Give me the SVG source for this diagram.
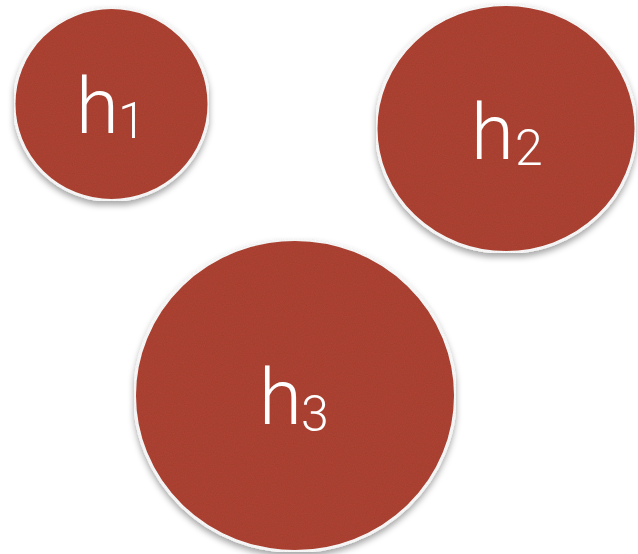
<svg xmlns="http://www.w3.org/2000/svg" width="638" height="554" viewBox="0 0 638 554">
  <defs>
    <filter id="shadow" x="-20%" y="-20%" width="140%" height="140%">
      <feDropShadow dx="0" dy="4" stdDeviation="3" flood-color="#000" flood-opacity="0.35"/>
    </filter>
    <filter id="tex" x="0" y="0" width="100%" height="100%">
      <feTurbulence type="fractalNoise" baseFrequency="0.9" numOctaves="2" seed="3" result="n"/>
      <feColorMatrix in="n" type="matrix" values="0 0 0 0 0  0 0 0 0 0  0 0 0 0 0  0 0 0 0.18 0" result="dark"/>
      <feComposite in="dark" in2="SourceGraphic" operator="in" result="d2"/>
      <feMerge><feMergeNode in="SourceGraphic"/><feMergeNode in="d2"/></feMerge>
    </filter>
  </defs>
  <style>
    .disc { fill: #b04434; stroke: #ffffff; stroke-width: 3; }
    .lbl { fill: #ffffff; font-family: "Roboto", "Liberation Sans", sans-serif; font-weight: 300; font-size: 78px; }
    .sub { font-size: 50px; }
  </style>
  <rect width="638" height="554" fill="#ffffff"/>
  <g id="connectors"/>
  <g id="h1">
    <g filter="url(#shadow)"><ellipse class="disc" cx="111.5" cy="104" rx="97.5" ry="96.5" filter="url(#tex)"/></g>
    <text class="lbl" x="76" y="133">h</text>
    <text class="lbl sub" x="118" y="138">1</text>
  </g>
  <g id="h2">
    <g filter="url(#shadow)"><ellipse class="disc" cx="506" cy="128.5" rx="130" ry="124" filter="url(#tex)"/></g>
    <text class="lbl" x="471" y="159">h</text>
    <text class="lbl sub" x="515" y="165">2</text>
  </g>
  <g id="h3">
    <g filter="url(#shadow)"><ellipse class="disc" cx="295" cy="395.5" rx="160.5" ry="156" filter="url(#tex)"/></g>
    <text class="lbl" x="259" y="424">h</text>
    <text class="lbl sub" x="301" y="431">3</text>
  </g>
</svg>
